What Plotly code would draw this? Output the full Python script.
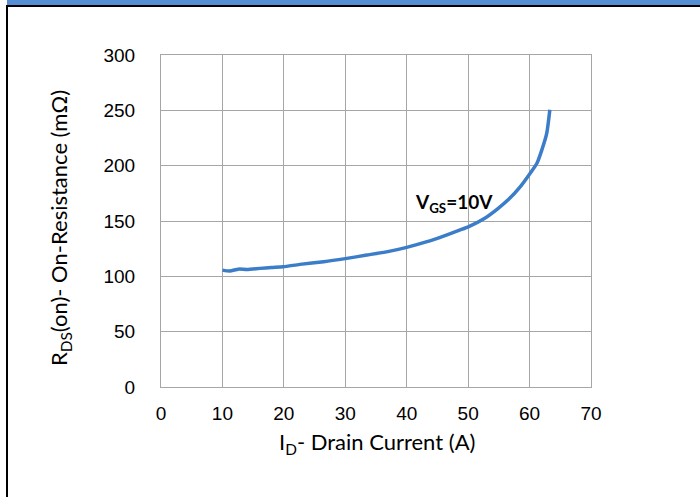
import plotly.graph_objects as go

drain_current = [10.0, 11.2, 12.6, 14.0, 16.1, 18.0, 19.9, 22.6, 26.5, 30.0, 33.5, 37.3, 40.0,
                 43.3, 46.0, 48.7, 50.1, 52.5, 54.7, 56.6, 58.5, 60.1, 61.2, 62.0, 62.8, 63.3]
on_resistance = [105.6, 104.8, 106.5, 106.2, 107.2, 108.0, 108.7, 110.8, 113.2, 116.0, 119.2, 122.8, 126.2,
                 131.3, 136.4, 141.9, 144.9, 151.8, 160.6, 169.6, 181.1, 193.2, 202.2, 214.3, 229.4, 250.5]
x_ticks = [0, 10, 20, 30, 40, 50, 60, 70]
y_ticks = [0, 50, 100, 150, 200, 250, 300]

L, R, T, B = 161, 109, 55, 110
W, H = 700, 497
pw, ph = W - L - R, H - T - B

def px(x):
    return (x - L) / pw

def py(y):
    return (H - B - y) / ph

fig = go.Figure()
fig.add_trace(go.Scatter(x=drain_current, y=on_resistance, mode="lines",
                         line=dict(color="#3B7DC8", width=3.5, shape="spline", smoothing=0.6),
                         showlegend=False, hoverinfo="skip"))

grid = "#A6A6A6"
tickfont = dict(family="Arial", size=19, color="#000")
titlefont = dict(family="Lato", size=22, color="#000")
fig.update_xaxes(range=[0, 70], tickvals=x_ticks, showgrid=True, gridcolor=grid, gridwidth=1,
                 showline=True, linecolor=grid, linewidth=1, mirror=True, zeroline=False,
                 ticks="", ticklabelstandoff=9, tickfont=tickfont)
fig.update_yaxes(range=[0, 300], tickvals=y_ticks, showgrid=True, gridcolor=grid, gridwidth=1,
                 showline=True, linecolor=grid, linewidth=1, mirror=True, zeroline=False,
                 ticks="", ticklabelstandoff=21, tickfont=tickfont)

fig.add_annotation(x=px(377), y=py(443), xref="paper", yref="paper", showarrow=False,
                   xanchor="center", yanchor="middle",
                   text="I<sub>D</sub>- Drain Current (A)", font=titlefont)
fig.add_annotation(x=px(60), y=py(228), xref="paper", yref="paper", showarrow=False,
                   xanchor="center", yanchor="middle", textangle=-90,
                   text="R<sub>DS</sub>(on)- On-Resistance (mΩ)", font=titlefont)

fig.add_annotation(x=47.7, y=166.5, xref="x", yref="y", showarrow=False,
                   text="<b>V<sub>GS</sub>=10V</b>",
                   font=dict(family="Lato", size=19, color="#000"))

shapes = [
    dict(type="rect", xref="paper", yref="paper", x0=px(7), x1=px(710), y0=py(5), y1=py(-10),
         fillcolor="#558ED5", line=dict(width=0), layer="above"),
    dict(type="rect", xref="paper", yref="paper", x0=px(6), x1=px(710), y0=py(7), y1=py(5),
         fillcolor="#000000", line=dict(width=0), layer="above"),
    dict(type="rect", xref="paper", yref="paper", x0=px(6), x1=px(8), y0=py(510), y1=py(5),
         fillcolor="#000000", line=dict(width=0), layer="above"),
]
fig.update_layout(width=W, height=H, margin=dict(l=L, r=R, t=T, b=B),
                  paper_bgcolor="white", plot_bgcolor="white", shapes=shapes)

fig.write_html("out.html")
